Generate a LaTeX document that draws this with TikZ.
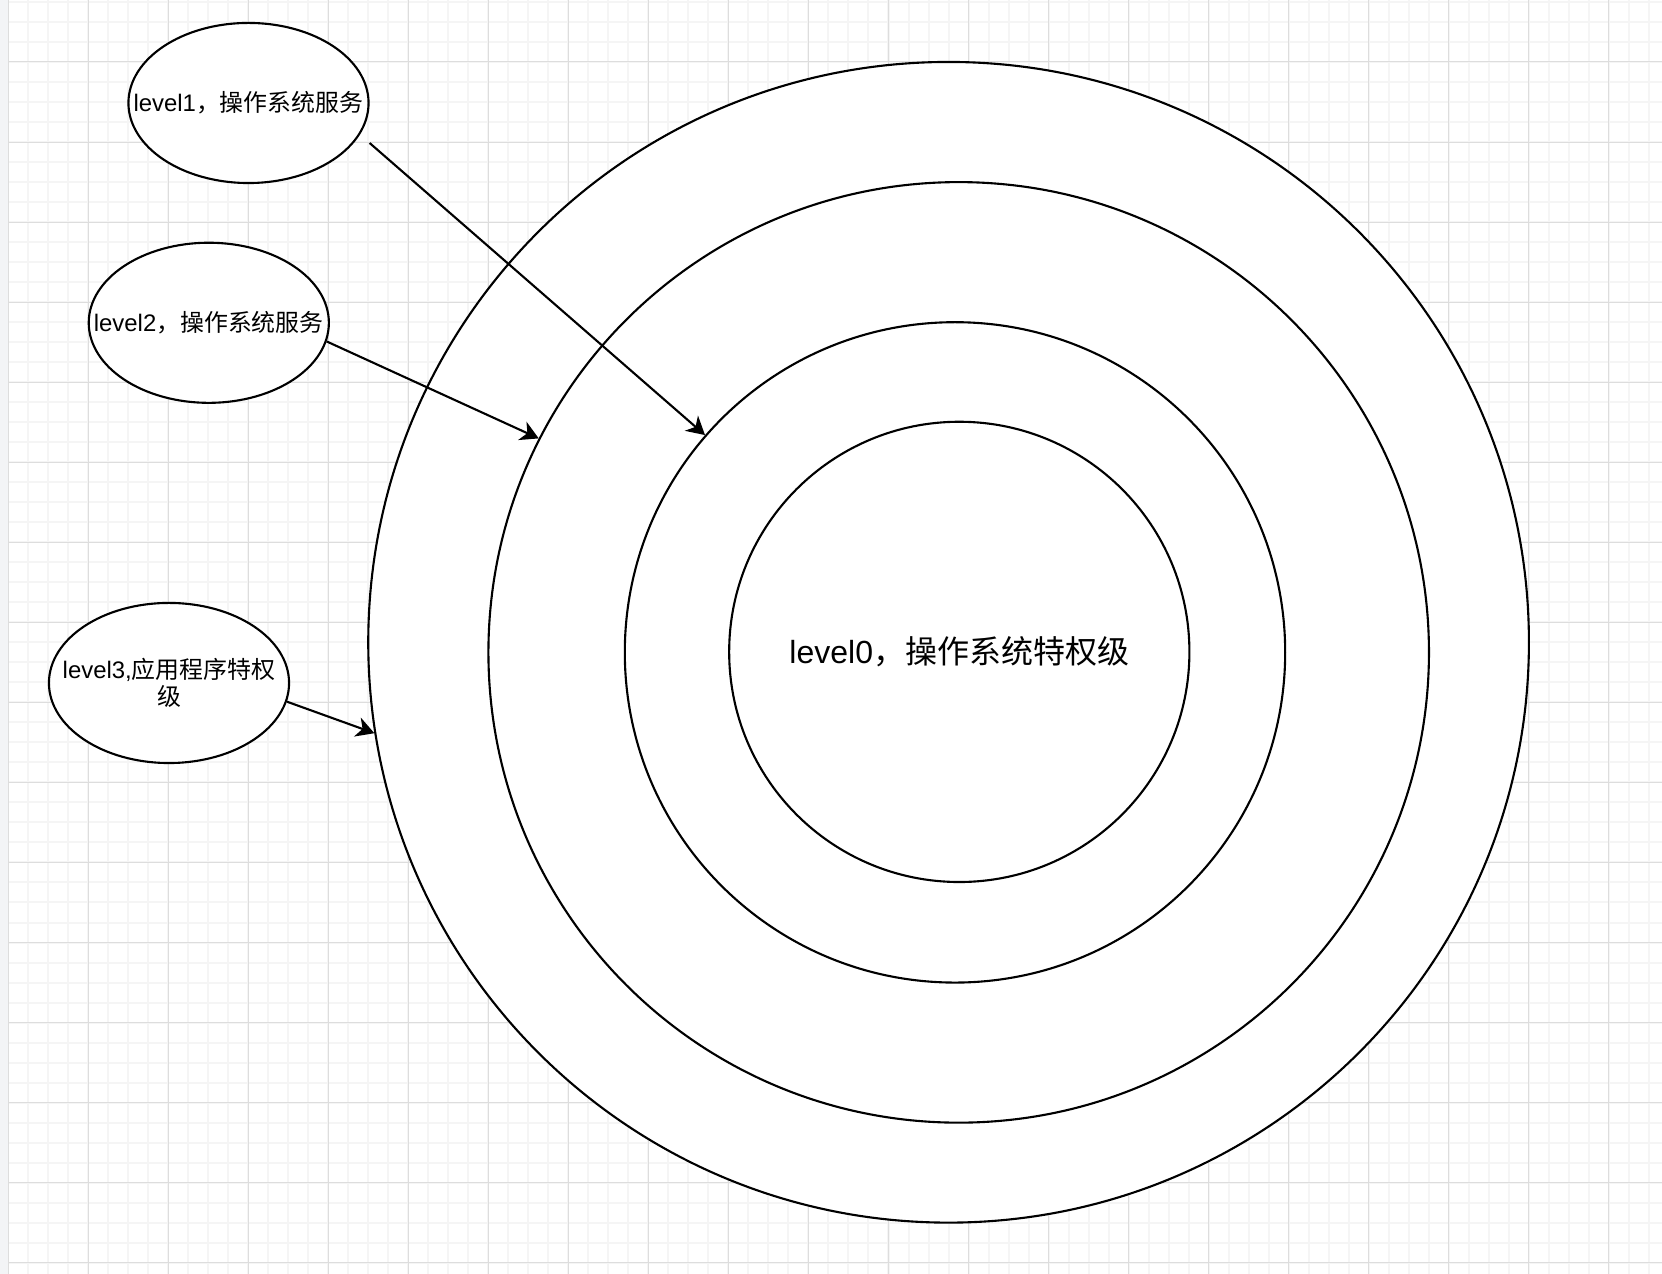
\documentclass[tikz,border=0pt]{standalone}
\usepackage{fontspec}
\setmainfont{Liberation Sans}
\newfontfamily\cjk{Noto Sans CJK SC}
\usetikzlibrary{shapes.geometric,arrows.meta}
\definecolor{gridminor}{RGB}{245,245,245}
\definecolor{gridmajor}{RGB}{221,221,221}
\definecolor{pageedge}{RGB}{243,244,246}

\begin{document}
\begin{tikzpicture}[x=0.01cm, y=-0.01cm, line width=.6pt,
  ring/.style={circle, draw, fill=white, inner sep=0pt},
  level/.style={ellipse, draw, fill=white, minimum width=2.4cm, minimum height=1.6cm,
    inner xsep=-.4cm, align=center, font=\fontsize{6.8}{7.6}\selectfont},
  arr/.style={-{Stealth[length=.18cm, width=.2cm, inset=.055cm]}}]
  \useasboundingbox (0,0) rectangle (1662,1274);

  % Background grid
  \fill[white] (0,0) rectangle (1662,1274);
  \begin{scope}
    \clip (0,0) rectangle (1662,1274);
    \draw[gridminor, line width=.57pt, shift={(8,2)}, step=.2cm] (-20,1300) grid (1680,-20);
    \draw[gridmajor, line width=.28pt, shift={(8,62)}, step=.8cm] (-80,1300) grid (1680,-80);
  \end{scope}
  \fill[pageedge] (0,0) rectangle (8,1274);

  % Privilege rings, outermost first
  \node[ring, minimum size=11.6cm] (ring1) at (948.6,642.3) {};
  \node[ring, minimum size=9.4cm] (ring2) at (958.7,652.4) {};
  \node[ring, minimum size=6.6cm] (ring3) at (955,652.4) {};
  \node[ring, minimum size=4.6cm, font=\fontsize{9.1}{11}\selectfont] (ring4) at (959.3,651.9)
    {level0{\cjk ，操作系统特权级}};

  % Level labels
  \node[level] (e1) at (248.5,103) {level1{\cjk ，操作系统服务}};
  \node[level] (e2) at (208.8,322.8) {level2{\cjk ，操作系统服务}};
  \node[level] (e3) at (169,683) {level3,{\cjk 应用程序特权}\\{\cjk 级}};

  % Pointers to the rings
  \draw[arr] ([yshift=-.4cm]e1.east) -- (ring3.139.2);
  \draw[arr] (e2.-9.3) -- (ring2.153.8);
  \draw[arr] (e3.-9.6) -- (ring1.-171.5);
\end{tikzpicture}
\end{document}
